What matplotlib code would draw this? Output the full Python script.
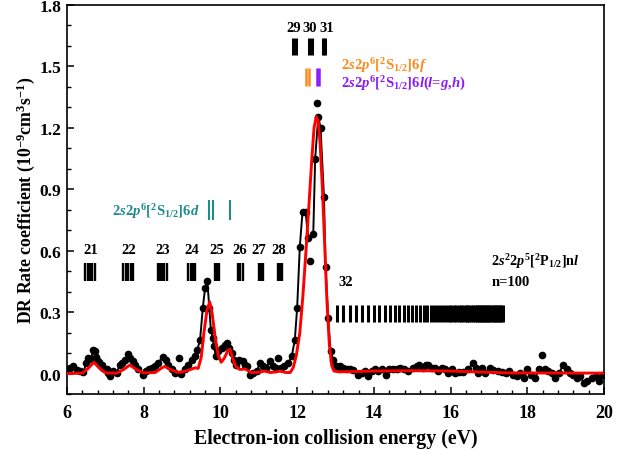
import matplotlib
matplotlib.use("Agg")
import matplotlib.pyplot as plt
from matplotlib.ticker import MultipleLocator, FormatStrFormatter

# ── Data ──────────────────────────────────────────────────────────────────
exp_energy = [
    6.02, 6.08, 6.16, 6.25, 6.34, 6.43, 6.50, 6.56, 6.62, 6.69, 6.73, 6.76,
    6.79, 6.84, 6.90, 6.95, 7.03, 7.08, 7.12, 7.21, 7.30, 7.38, 7.43, 7.51,
    7.60, 7.64, 7.71, 7.77, 7.86, 7.97, 8.06, 8.15, 8.21, 8.29, 8.38, 8.49,
    8.58, 8.64, 8.73, 8.82, 8.93, 8.96, 9.08, 9.16, 9.25, 9.34, 9.40, 9.47,
    9.54, 9.60, 9.66, 9.71, 9.75, 9.80, 9.83, 9.88, 9.94, 10.03, 10.12, 10.18,
    10.23, 10.29, 10.35, 10.41, 10.49, 10.58, 10.64, 10.70, 10.77, 10.86, 10.95,
    11.03, 11.10, 11.19, 11.29, 11.36, 11.45, 11.51, 11.57, 11.66, 11.77, 11.86,
    11.94, 12.00, 12.07, 12.14, 12.22, 12.29, 12.33, 12.42, 12.47, 12.525, 12.55,
    12.61, 12.70, 12.74, 12.81, 12.87, 12.94, 13.01, 13.07, 13.13, 13.20, 13.29,
    13.38, 13.46, 13.59, 13.68, 13.77, 13.85, 13.94, 14.03, 14.11, 14.20, 14.32,
    14.40, 14.49, 14.60, 14.68, 14.79, 14.90, 15.01, 15.12, 15.18, 15.27, 15.36,
    15.42, 15.51, 15.59, 15.68, 15.77, 15.85, 15.94, 16.03, 16.11, 16.23, 16.33,
    16.46, 16.58, 16.66, 16.72, 16.81, 16.90, 17.03, 17.11, 17.24, 17.33, 17.44,
    17.53, 17.64, 17.72, 17.81, 17.91, 18.00, 18.09, 18.20, 18.31, 18.39, 18.46,
    18.55, 18.64, 18.72, 18.83, 18.94, 19.03, 19.11, 19.20, 19.29, 19.37, 19.48,
    19.56, 19.68, 19.79, 19.88, 19.97,
]
exp_rate = [
    0.020, 0.028, 0.036, 0.016, 0.011, 0.006, 0.052, 0.076, 0.070, 0.117, 0.109, 0.081,
    0.068, 0.055, 0.044, 0.028, 0.023, 0.003, -0.010, 0.011, 0.003, 0.044, 0.052, 0.068,
    0.093, 0.076, 0.060, 0.044, 0.020, -0.005, 0.011, 0.023, 0.028, 0.039, 0.052, 0.081,
    0.068, 0.044, 0.020, 0.003, 0.076, 0.000, 0.020, 0.044, 0.068, 0.084, 0.117, 0.166,
    0.320, 0.418, 0.450, 0.320, 0.215, 0.174, 0.133, 0.088, 0.109, 0.125, 0.141, 0.150,
    0.125, 0.100, 0.068, 0.044, 0.068, 0.060, 0.044, 0.036, -0.005, 0.003, 0.011,
    0.052, 0.039, 0.028, 0.060, 0.036, 0.028, 0.076, 0.028, 0.036, 0.052, 0.084,
    0.166, 0.320, 0.620, 0.790, 0.790, 0.660, 0.550, 0.680, 1.050, 1.320, 1.255,
    1.200, 0.860, 0.520, 0.270, 0.110, 0.068, 0.036, 0.028, 0.036, 0.028, 0.020,
    0.020, 0.016, -0.005, 0.003, 0.011, -0.010, 0.011, 0.020, 0.011, 0.020, -0.005,
    0.023, 0.020, 0.020, 0.028, 0.020, 0.011, 0.028, 0.036, 0.044, 0.028, 0.040,
    0.044, 0.028, 0.028, 0.011, 0.028, 0.020, 0.003, 0.020, 0.003, 0.006, 0.006,
    0.023, 0.049, 0.028, 0.003, 0.028, 0.003, 0.028, 0.016, 0.011, 0.006, 0.003,
    0.011, -0.005, -0.013, 0.003, -0.021, 0.020, -0.005, -0.021, 0.020, 0.089, 0.020,
    0.011, 0.003, -0.021, 0.003, 0.044, 0.020, 0.003, -0.005, -0.021, -0.013, -0.045,
    -0.037, -0.021, -0.013, -0.037, -0.005,
]
# isolated points that the connecting line does not pass through
line_skip = [8.93, 11.51, 12.33, 12.525, 18.39]

theory_energy = [
    6.00, 6.40, 6.55, 6.70, 6.85, 7.00, 7.30, 7.48, 7.64, 7.80, 8.00, 8.30,
    8.45, 8.55, 8.68, 8.90, 9.10, 9.25, 9.34, 9.42, 9.50, 9.57, 9.65, 9.72,
    9.78, 9.86, 9.94, 10.02, 10.10, 10.20, 10.25, 10.32, 10.40, 10.50, 10.65,
    10.80, 11.00, 11.15, 11.30, 11.45, 11.55, 11.70, 11.82, 11.90, 11.98, 12.07,
    12.15, 12.22, 12.30, 12.38, 12.44, 12.50, 12.55, 12.60, 12.66, 12.72, 12.78,
    12.84, 12.90, 12.96, 13.10, 14.00, 15.00, 16.00, 17.00, 17.50, 20.00,
]
theory_rate = [
    0.000, 0.002, 0.025, 0.055, 0.025, 0.003, 0.002, 0.020, 0.042, 0.020, 0.003, 0.005,
    0.025, 0.035, 0.020, 0.005, 0.012, 0.022, 0.028, 0.025, 0.080, 0.200, 0.310, 0.350,
    0.300, 0.180, 0.090, 0.055, 0.075, 0.115, 0.118, 0.075, 0.035, 0.020, 0.022,
    0.005, 0.006, 0.012, 0.005, 0.008, 0.012, 0.005, 0.005, 0.030, 0.090, 0.200,
    0.380, 0.570, 0.800, 1.040, 1.200, 1.255, 1.230, 1.120, 0.900, 0.620, 0.340,
    0.140, 0.040, 0.012, 0.008, 0.012, 0.014, 0.012, 0.006, 0.003, 0.002,
]

# resonance positions (eV)
group_labels = ["21", "22", "23", "24", "25", "26", "27", "28"]
group_label_x = [6.62, 7.62, 8.49, 9.25, 9.90, 10.49, 11.01, 11.51]
group_lines = [
    6.47, 6.54, 6.60, 6.66, 6.73,
    7.47, 7.54, 7.60, 7.66, 7.73,
    8.36, 8.42, 8.48, 8.54, 8.60,
    9.16, 9.22, 9.28, 9.34,
    9.86, 9.90, 9.97,
    10.47, 10.51, 10.58,
    11.01, 11.06, 11.12,
    11.51, 11.55, 11.60,
]
top_labels = ["29", "30", "31"]
top_label_x = [11.91, 12.34, 12.77]
top_lines = [11.90, 11.96, 12.32, 12.38, 12.67, 12.72]
sixf_lines = [12.23, 12.31]
sixl_lines = [12.53, 12.57]
sixd_lines = [9.70, 9.80, 10.25]
series32_lines = [
    13.03, 13.20, 13.37, 13.53, 13.69, 13.85, 14.00, 14.14, 14.28, 14.41, 14.54,
    14.66, 14.78, 14.89, 15.00, 15.10, 15.20, 15.30, 15.39, 15.48, 15.57, 15.65,
    15.73, 15.81, 15.88, 15.95, 16.02, 16.09, 16.15, 16.21, 16.27, 16.33, 16.39,
    16.44, 16.49, 16.54, 16.59, 16.64, 16.68, 16.72, 16.76, 16.80, 16.84, 16.88,
    16.92, 16.96, 17.00, 17.04, 17.08, 17.12, 17.16, 17.20, 17.24, 17.28, 17.32,
    17.37,
]

# ── Style ─────────────────────────────────────────────────────────────────
plt.rcParams.update({
    "font.family": "Liberation Serif",
    "font.weight": "bold",
    "mathtext.fontset": "custom",
    "mathtext.rm": "Liberation Serif:bold",
    "mathtext.it": "Liberation Serif:italic:bold",
    "mathtext.bf": "Liberation Serif:bold",
    "axes.linewidth": 1.2,
    "xtick.direction": "in",
    "ytick.direction": "in",
})

TEAL = "#1f8c8c"
ORANGE = "#ff8a1c"
PURPLE = "#8c1aff"

fig = plt.figure(figsize=(6.3, 4.52), dpi=100)
ax = fig.add_axes([67 / 630, 57 / 452, 537 / 630, 389 / 452])

# experimental line + symbols
line_x = [e for e in exp_energy if e not in line_skip]
line_y = [r for e, r in zip(exp_energy, exp_rate) if e not in line_skip]
ax.plot(line_x, line_y, color="black", lw=1.4, zorder=2)
ax.plot(exp_energy, exp_rate, "o", color="black", ms=4.5, zorder=3)
ax.plot(theory_energy, theory_rate, color="red", lw=2.1, zorder=4)

# resonance markers
ax.vlines(group_lines, 0.45, 0.54, color="black", lw=1.7)
for lab, x in zip(group_labels, group_label_x):
    ax.text(x, 0.605, lab, ha="center", va="center", fontsize=10.5, fontweight="bold")
ax.vlines(top_lines, 1.555, 1.64, color="black", lw=2.2)
for lab, x in zip(top_labels, top_label_x):
    ax.text(x, 1.688, lab, ha="center", va="center", fontsize=10.5, fontweight="bold")
ax.vlines(sixf_lines, 1.405, 1.49, color=ORANGE, lw=1.8)
ax.vlines(sixl_lines, 1.405, 1.49, color=PURPLE, lw=1.8)
ax.vlines(sixd_lines, 0.75, 0.85, color=TEAL, lw=1.5)
ax.vlines(series32_lines, 0.25, 0.335, color="black", lw=2.2)

ax.text(13.08, 0.45, "32", ha="left", va="center", fontsize=10.5, fontweight="bold")
ax.text(9.45, 0.795, r"2$\mathit{s}$2$\mathit{p}^{6}$[$^{2}$S$_{1/2}$]6$\mathit{d}$",
        color=TEAL, ha="right", va="center", fontsize=10.5, fontweight="bold")
ax.text(13.15, 1.507, r"2$\mathit{s}$2$\mathit{p}^{6}$[$^{2}$S$_{1/2}$]6$\mathit{f}$",
        color=ORANGE, ha="left", va="center", fontsize=10.5, fontweight="bold")
ax.text(13.15, 1.418,
        r"2$\mathit{s}$2$\mathit{p}^{6}$[$^{2}$S$_{1/2}$]6$\mathit{l}$($\mathit{l}$=$\mathit{g}$,$\mathit{h}$)",
        color=PURPLE, ha="left", va="center", fontsize=10.5, fontweight="bold")
ax.text(17.05, 0.55, r"2$\mathit{s}^{2}$2$\mathit{p}^{5}$[$^{2}$P$_{1/2}$]n$\mathit{l}$",
        ha="left", va="center", fontsize=10.2, fontweight="bold")
ax.text(17.07, 0.45, "n=100", ha="left", va="center", fontsize=10.5, fontweight="bold")

# axes
ax.set_xlim(6, 20)
ax.set_ylim(-0.1, 1.8)
ax.xaxis.set_major_locator(MultipleLocator(2))
ax.xaxis.set_minor_locator(MultipleLocator(0.4))
ax.yaxis.set_major_locator(MultipleLocator(0.3))
ax.yaxis.set_minor_locator(MultipleLocator(0.1))
ax.yaxis.set_major_formatter(FormatStrFormatter("%.1f"))
ax.tick_params(which="major", length=5, width=1.1, labelsize=13)
ax.tick_params(axis="x", which="major", pad=7)
ax.tick_params(axis="y", which="major", pad=4, labelsize=12.5)
ax.tick_params(which="minor", length=3, width=1.0)
ax.tick_params(top=False, right=False, which="both")

ax.set_xlabel("Electron-ion collision energy (eV)", fontsize=14.3, fontweight="bold", labelpad=5)
ax.set_ylabel(r"DR Rate coefficient (10$^{-9}$cm$^{3}$s$^{-1}$)", fontsize=12.8,
              fontweight="bold", labelpad=2)

fig.savefig("out.png", dpi=100)
